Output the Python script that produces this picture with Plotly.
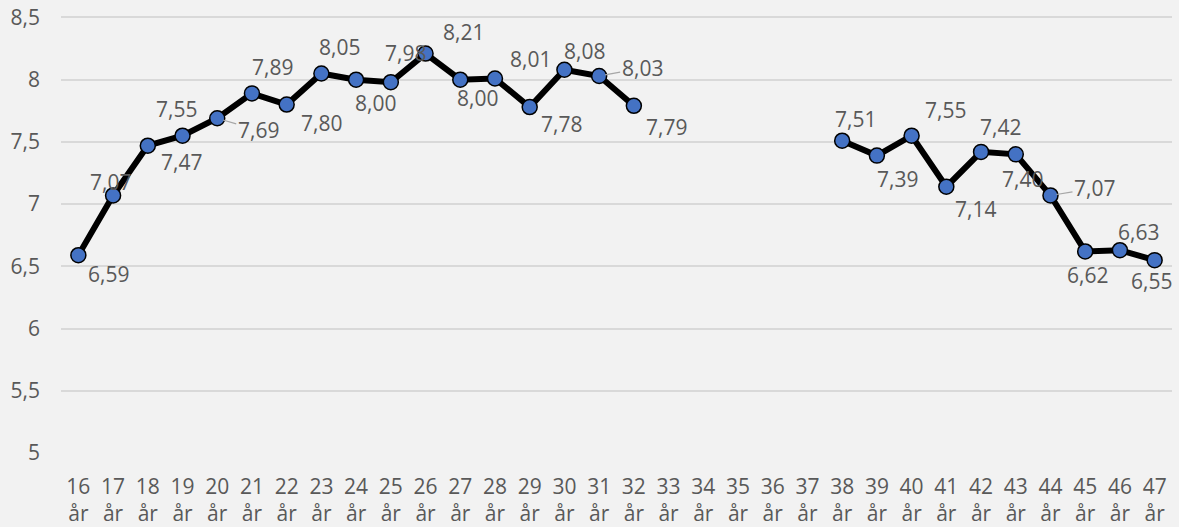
import plotly.graph_objects as go

ages = list(range(16, 48))
values = [6.59, 7.07, 7.47, 7.55, 7.69, 7.89, 7.80, 8.05, 8.00, 7.98, 8.21, 8.00,
          8.01, 7.78, 8.08, 8.03, 7.79, None, None, None, None, None, 7.51, 7.39,
          7.55, 7.14, 7.42, 7.40, 7.07, 6.62, 6.63, 6.55]
categories = [f"{a} år" for a in ages]
tick_labels = [f"{a}<br>år" for a in ages]
y_ticks = [5, 5.5, 6, 6.5, 7, 7.5, 8, 8.5]
y_tick_labels = ["5", "5,5", "6", "6,5", "7", "7,5", "8", "8,5"]

# label offsets (pixels, dx right, dy down) and leader-line flags (style only)
label_offsets = [(30, 19), (-3, -13), (34, 16), (-6, -27), (41, 12), (21, -26), (35, 18),
                 (18, -26), (19, 23), (15, -29), (38, -22), (17, 18), (36, -19), (32, 17),
                 (20, -19), (43, -8), (33, 21), None, None, None, None, None, (13, -22),
                 (21, 23), (34, -26), (29, 22), (19, -25), (7, 25), (44, -7), (2, 24),
                 (19, -18), (-3, 21)]
leaders = {20, 31, 44}

TEXT = "#595959"
FONT = "Open Sans"

fig = go.Figure()
fig.add_trace(go.Scatter(
    x=categories, y=values, mode="lines+markers", connectgaps=False,
    line=dict(color="black", width=6),
    marker=dict(size=15, color="#4472c4", line=dict(color="black", width=1.5)),
    hoverinfo="skip", showlegend=False,
))

annotations = []
for cat, age, v, off in zip(categories, ages, values, label_offsets):
    if v is None:
        continue
    dx, dy = off
    lead = age in leaders
    annotations.append(dict(
        x=cat, y=v, xref="x", yref="y",
        text=f"{v:.2f}".replace(".", ","),
        showarrow=True, ax=dx, ay=dy, axref="pixel", ayref="pixel",
        arrowhead=0, arrowwidth=1.2, standoff=6 if lead else 0,
        arrowcolor="#a6a6a6" if lead else "rgba(0,0,0,0)",
        font=dict(family=FONT, size=21, color=TEXT),
    ))

fig.update_layout(
    width=1179, height=527,
    paper_bgcolor="#f2f2f2", plot_bgcolor="#f2f2f2",
    margin=dict(l=61, r=7, t=14.5, b=74, autoexpand=False),
    font=dict(family=FONT, size=21, color=TEXT),
    annotations=annotations,
    xaxis=dict(
        type="category", categoryorder="array", categoryarray=categories,
        tickmode="array", tickvals=categories, ticktext=tick_labels,
        range=[-0.5, 31.5], showgrid=False, zeroline=False, showline=False,
        ticks="", automargin=False, ticklabelstandoff=19,
        tickfont=dict(family=FONT, size=21, color=TEXT),
    ),
    yaxis=dict(
        range=[5, 8.52], tickmode="array", tickvals=y_ticks, ticktext=y_tick_labels,
        showgrid=True, gridcolor="#d9d9d9", gridwidth=1.5, zeroline=False,
        showline=False, ticks="", ticklabelstandoff=20, automargin=False,
        tickfont=dict(family=FONT, size=21, color=TEXT),
    ),
)

fig.write_html("out.html", config={"displayModeBar": False},
               post_script="document.body.style.margin='0';document.body.style.background='#f2f2f2';")
